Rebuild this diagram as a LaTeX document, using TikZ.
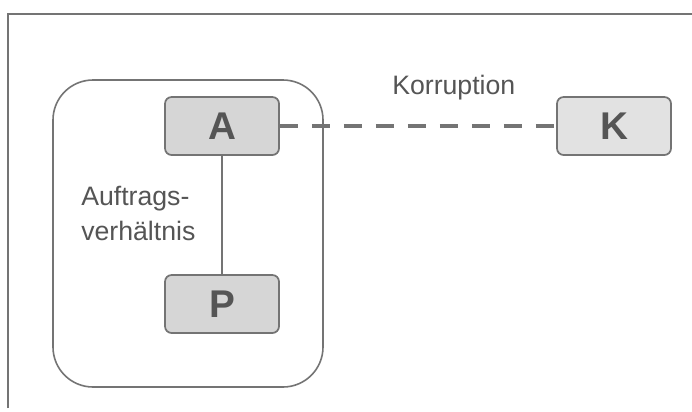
\documentclass[tikz,border=0pt]{standalone}
\usepackage{fontspec}
\setmainfont{Liberation Sans}
\definecolor{lin}{HTML}{747474}
\definecolor{txt}{HTML}{555555}
\definecolor{boxA}{HTML}{D6D6D6}
\definecolor{boxK}{HTML}{E2E2E2}
\tikzset{
  agent/.style={draw=lin, line width=1.3pt, rounded corners=5pt, minimum width=85.5pt, minimum height=43.5pt, inner sep=0pt, font=\fontsize{29}{32}\selectfont\bfseries, text=txt},
  lbl/.style={font=\fontsize{20}{26}\selectfont, text=txt, inner sep=0pt},
  conn/.style={draw=lin, line width=1.8pt}
}
\begin{document}
\begin{tikzpicture}[x=0.75pt,y=-0.75pt]
\useasboundingbox (0,0) rectangle (692,411);
\fill[white] (0,0) rectangle (692,411);
% outer frame
\draw[lin, line width=1.6pt] (8,408) -- (8,14) -- (692,14);
% container
\draw[lin, line width=1.2pt, rounded corners=30pt] (53,80) rectangle (323,387);
% nodes
\node[agent, fill=boxA] (A) at (222,126) {A};
\node[agent, fill=boxK] (K) at (614,126) {K};
\node[agent, fill=boxA] (P) at (222,304) {P};
% connectors
\draw[conn] (A) -- (P);
\draw[conn, line width=2.4pt, dash pattern=on 13.5pt off 10.5pt] (A.east) -- (K.west);
% labels
\node[lbl, anchor=west] (kor) at (392,88) {Korruption};
\node[lbl, anchor=north west, align=left] (auf) at (81,186) {Auftrags-\\verhältnis};
\end{tikzpicture}
\end{document}
